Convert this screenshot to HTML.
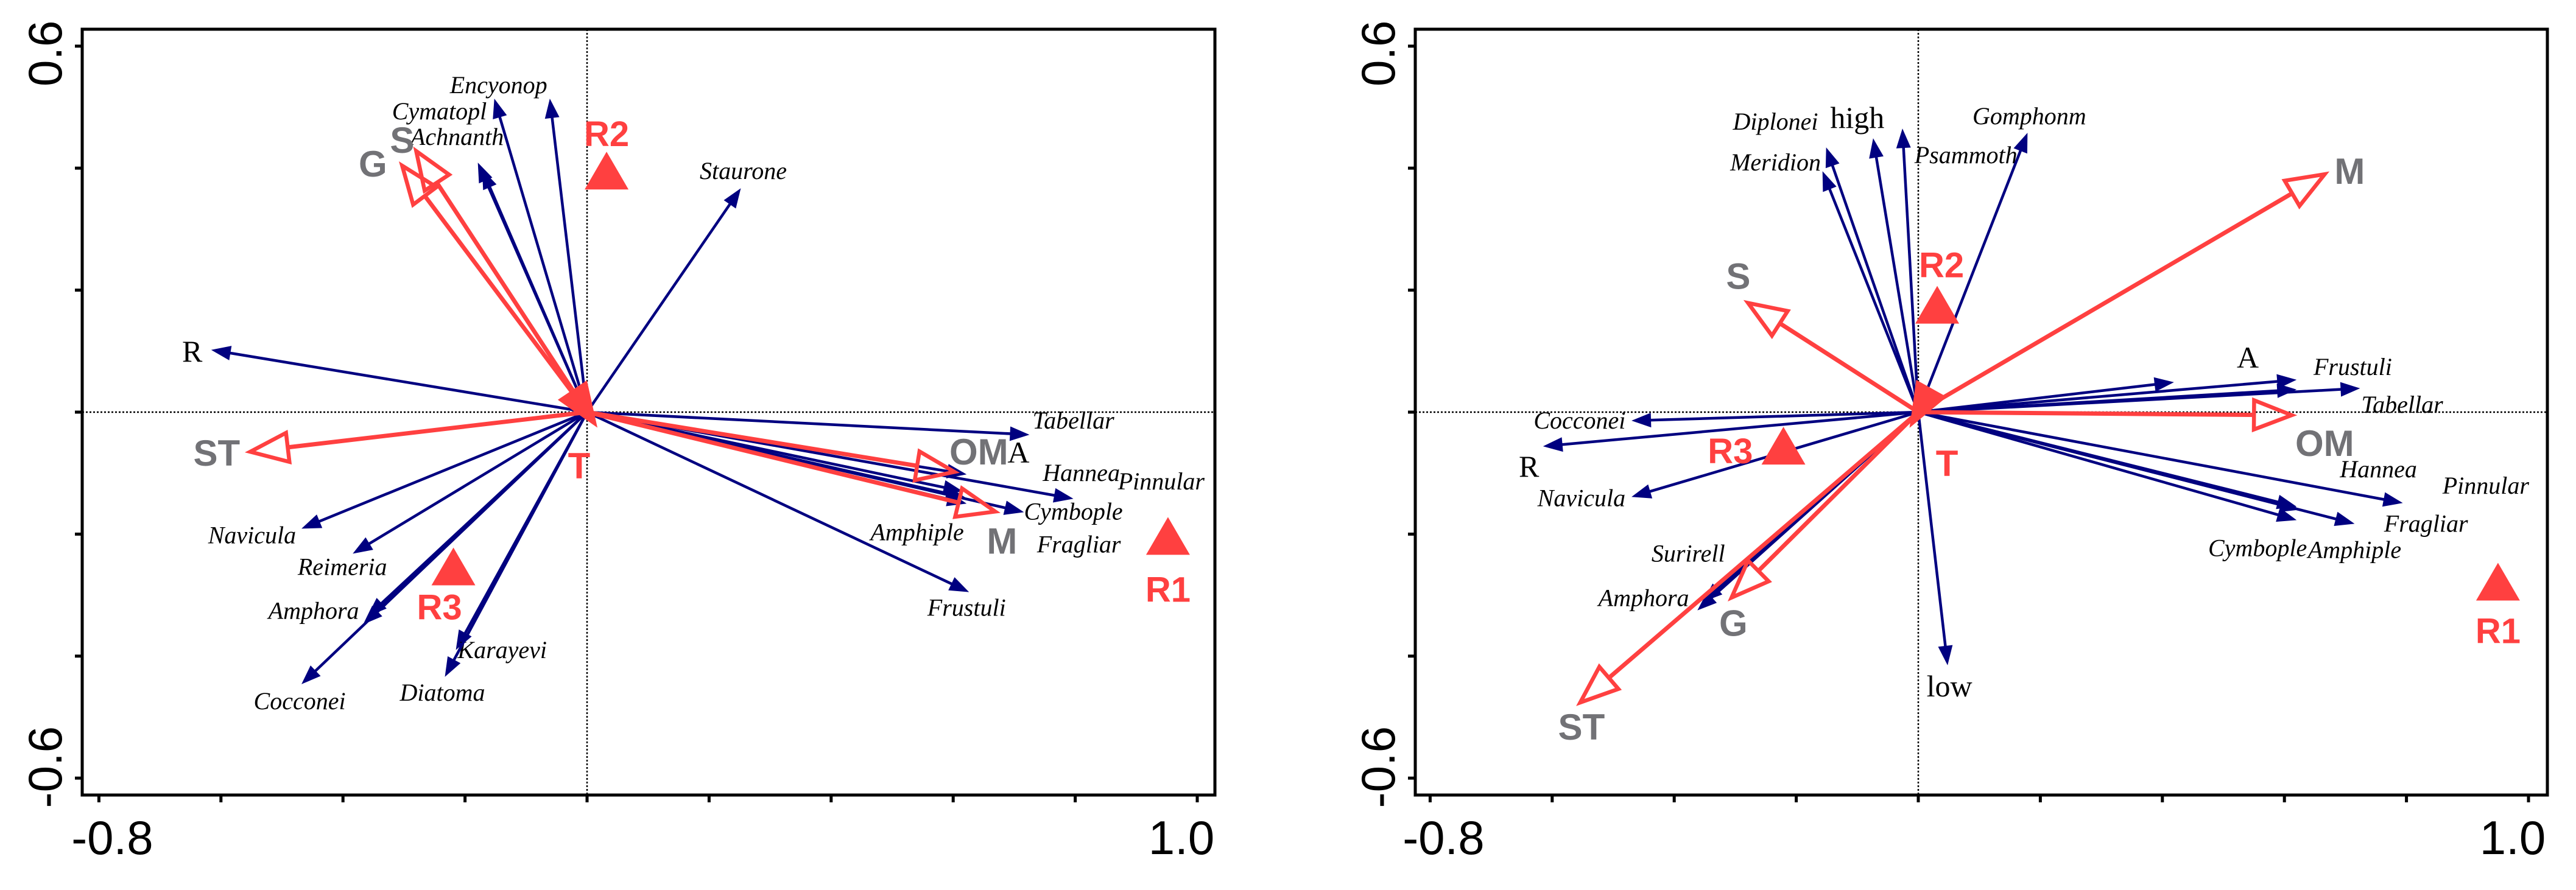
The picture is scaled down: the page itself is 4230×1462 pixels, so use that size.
<!DOCTYPE html>
<html><head><meta charset="utf-8"><style>
html,body{margin:0;padding:0;background:#fff;}
svg{display:block;}
.sp{font-family:"Liberation Serif",serif;font-style:italic;font-size:40px;fill:#000;}
.sn{font-family:"Liberation Serif",serif;font-size:50px;fill:#000;}
.env{font-family:"Liberation Sans",sans-serif;font-weight:bold;font-size:60px;fill:#727276;}
.pt{font-family:"Liberation Sans",sans-serif;font-weight:bold;font-size:58px;fill:#ff4040;}
.tk{font-family:"Liberation Sans",sans-serif;font-size:78px;fill:#000;}
</style></head><body>
<svg id="chart" width="4230" height="1462" viewBox="0 0 4230 1462" xmlns="http://www.w3.org/2000/svg"></svg>
<script>
// ---- Panel 1 data ----
const p1SpNames = ["Encyonop","Cymatopl","Achnanth","","Staurone","R","Tabellar","A","Hannea","Pinnular","Amphiple","Cymbople","Fragliar","Frustuli","Navicula","Reimeria","Amphora","","Cocconei","Karayevi","Diatoma"];
const p1SpX = [-0.061,-0.152,-0.179,-0.172,0.252,-0.616,0.725,0.622,0.797,0.616,0.622,0.716,0.620,0.626,-0.468,-0.384,-0.367,-0.360,-0.468,-0.215,-0.233];
const p1SpY = [0.514,0.514,0.409,0.398,0.367,0.102,-0.037,-0.102,-0.142,-0.130,-0.150,-0.164,-0.140,-0.295,-0.191,-0.232,-0.348,-0.335,-0.446,-0.390,-0.434];
const p1SpLX = [-0.145,-0.242,-0.213,0,0.256,-0.647,0.797,0.707,0.810,0.941,0.541,0.797,0.806,0.622,-0.549,-0.401,-0.448,0,-0.471,-0.139,-0.237];
const p1SpLY = [0.536,0.493,0.451,0,0.395,0.096,-0.014,-0.070,-0.100,-0.114,-0.197,-0.163,-0.217,-0.321,-0.202,-0.254,-0.326,0,-0.474,-0.390,-0.460];
const p1EnvNames = ["S","G","ST","OM","M","T"];
const p1EnvX = [-0.280,-0.303,-0.552,0.602,0.669,0.012];
const p1EnvY = [0.428,0.404,-0.065,-0.098,-0.163,-0.018];
const p1EnvLX = [-0.303,-0.351,-0.607,0.642,0.680,-0.013];
const p1EnvLY = [0.446,0.407,-0.067,-0.065,-0.211,-0.088];
const p1PtNames = ["R1","R2","R3"];
const p1PtX = [0.952,0.032,-0.219];
const p1PtY = [-0.204,0.395,-0.254];
const p1PtLX = [0.952,0.032,-0.242];
const p1PtLY = [-0.290,0.457,-0.319];
// ---- Panel 2 data ----
const p2SpNames = ["Diplonei","Meridion","high","Psammoth","Gomphonm","A","Frustuli","","Tabellar","Cocconei","R","Navicula","Hannea","Pinnular","Fragliar","Cymbople","Amphiple","Surirell","Amphora","low"];
const p2SpX = [-0.151,-0.157,-0.074,-0.026,0.179,0.419,0.620,0.620,0.724,-0.470,-0.615,-0.470,0.620,0.794,0.715,0.620,0.625,-0.353,-0.362,0.048];
const p2SpY = [0.434,0.395,0.449,0.465,0.458,0.049,0.053,0.037,0.039,-0.014,-0.056,-0.139,-0.155,-0.149,-0.183,-0.177,-0.160,-0.311,-0.325,-0.415];
const p2SpLX = [-0.234,-0.234,-0.100,0.078,0.182,0.540,0.712,0,0.793,-0.555,-0.638,-0.552,0.754,0.930,0.832,0.556,0.715,-0.377,-0.450,0.051];
const p2SpLY = [0.476,0.409,0.479,0.421,0.485,0.086,0.074,0,0.012,-0.014,-0.093,-0.141,-0.094,-0.121,-0.183,-0.223,-0.226,-0.232,-0.305,-0.453];
const p2EnvNames = ["M","S","OM","G","ST","T"];
const p2EnvX = [0.666,-0.279,0.612,-0.306,-0.554,-0.010];
const p2EnvY = [0.390,0.179,-0.005,-0.304,-0.476,-0.018];
const p2EnvLX = [0.707,-0.295,0.666,-0.303,-0.552,0.047];
const p2EnvLY = [0.395,0.223,-0.051,-0.346,-0.516,-0.084];
const p2PtNames = ["R1","R2","R3"];
const p2PtX = [0.950,0.031,-0.221];
const p2PtY = [-0.279,0.175,-0.056];
const p2PtLX = [0.950,0.038,-0.308];
const p2PtLY = [-0.358,0.242,-0.063];
const xTicks = [-0.8,-0.6,-0.4,-0.2,0,0.2,0.4,0.6,0.8,1.0];
const yTicks = [0.6,0.4,0.2,0,-0.2,-0.4,-0.6];
const tickLabelsX = ["-0.8","1.0"];
const tickLabelsY = ["0.6","-0.6"];

const NS="http://www.w3.org/2000/svg";
const svg=document.getElementById('chart');
function mk(tag,attrs,parent){const e=document.createElementNS(NS,tag);for(const k in attrs)e.setAttribute(k,attrs[k]);(parent||svg).appendChild(e);return e;}

function panel(id,left,right,x0,sp,env,pt){
  const top=48,bottom=1306,y0=677,S=1002;
  const sx=v=>x0+v*S, sy=v=>y0-v*S;
  const g=mk('g',{});
  
  
  // zero lines
  const zx=mk('line',{x1:left,x2:right,y1:sy(0),y2:sy(0),stroke:'#000','stroke-width':2.5,'stroke-dasharray':'3 3'},g);
  
  
  const zy=mk('line',{x1:sx(0),x2:sx(0),y1:top,y2:bottom,stroke:'#000','stroke-width':2.5,'stroke-dasharray':'3 3'},g);
  
  
  // species arrows
  for(let i=0;i<sp.n.length;i++){
    const tx=sx(sp.x[i]),ty=sy(sp.y[i]),ox=sx(0),oy=sy(0);
    const dx=tx-ox,dy=ty-oy,L=Math.hypot(dx,dy),ux=dx/L,uy=dy/L,hl=32,hw=12;
    const bx=tx-ux*hl,by=ty-uy*hl;
    const a=mk('g',{},g);
    
    
    mk('line',{x1:ox,y1:oy,x2:bx+ux*4,y2:by+uy*4,stroke:'#000080','stroke-width':4.5},a);
    mk('polygon',{points:`${tx},${ty} ${bx-uy*hw},${by+ux*hw} ${bx+uy*hw},${by-ux*hw}`,fill:'#000080'},a);
    if(sp.n[i]){
      const t=mk('text',{x:sx(sp.lx[i]),y:sy(sp.ly[i])+13,'text-anchor':'middle',class:(sp.n[i].length<=4?'sn':'sp')},g);
      t.textContent=sp.n[i];
      
      
    }
  }
  // env arrows
  for(let i=0;i<env.n.length;i++){
    const tx=sx(env.x[i]),ty=sy(env.y[i]),ox=sx(0),oy=sy(0);
    const dx=tx-ox,dy=ty-oy,L=Math.hypot(dx,dy)||1,ux=dx/L,uy=dy/L,hl=62,hw=24;
    const bx=tx-ux*hl,by=ty-uy*hl;
    const a=mk('g',{},g);
    
    
    mk('line',{x1:ox,y1:oy,x2:bx,y2:by,stroke:'#ff4040','stroke-width':7},a);
    mk('polygon',{points:`${tx},${ty} ${bx-uy*hw},${by+ux*hw} ${bx+uy*hw},${by-ux*hw}`,fill:env.n[i]==='T'?'#ff4040':'none',stroke:'#ff4040','stroke-width':6.5,'stroke-linejoin':'miter'},a);
    const t=mk('text',{x:sx(env.lx[i]),y:sy(env.ly[i])+21,'text-anchor':'middle',class:'env'},g);
    if(env.n[i]==='T')t.setAttribute('fill','#ff4040'),t.setAttribute('style','fill:#ff4040');
    t.textContent=env.n[i];
    
    
  }
  // sample points
  for(let i=0;i<pt.n.length;i++){
    const cx=sx(pt.x[i]),cy=sy(pt.y[i]);
    const p=mk('polygon',{points:`${cx},${cy-32} ${cx-36},${cy+30} ${cx+36},${cy+30}`,fill:'#ff4040'},g);
    
    
    const t=mk('text',{x:sx(pt.lx[i]),y:sy(pt.ly[i])+21,'text-anchor':'middle',class:'pt'},g);
    t.textContent=pt.n[i];
    
    
  }
  // frame
  const fr=mk('rect',{x:left,y:top,width:right-left,height:bottom-top,fill:'none',stroke:'#000','stroke-width':5},g);
  
  
  // ticks
  xTicks.forEach(v=>{const l=mk('line',{x1:sx(v),x2:sx(v),y1:bottom,y2:bottom+12,stroke:'#000','stroke-width':5},g);
    
    });
  yTicks.forEach(v=>{const l=mk('line',{x1:left-12,x2:left,y1:sy(v),y2:sy(v),stroke:'#000','stroke-width':5},g);
    
    });
  [xTicks[0],xTicks[xTicks.length-1]].forEach((v,k)=>{
    const t=mk('text',{x:sx(v)+(k?-26:22),y:1403,'text-anchor':'middle',class:'tk'},g);
    t.textContent=tickLabelsX[k];
    
    });
  [yTicks[0],yTicks[yTicks.length-1]].forEach((v,k)=>{
    const yy=sy(v)+(k?-18:12);
    const t=mk('text',{x:left-62,y:yy,'text-anchor':'middle',class:'tk',transform:`rotate(-90 ${left-62} ${yy})`,dy:28},g);
    t.textContent=tickLabelsY[k];
    
    });
}
panel('left-biplot',135,1995,964,
  {n:p1SpNames,x:p1SpX,y:p1SpY,lx:p1SpLX,ly:p1SpLY},
  {n:p1EnvNames,x:p1EnvX,y:p1EnvY,lx:p1EnvLX,ly:p1EnvLY},
  {n:p1PtNames,x:p1PtX,y:p1PtY,lx:p1PtLX,ly:p1PtLY});
panel('right-biplot',2324,4183,3150,
  {n:p2SpNames,x:p2SpX,y:p2SpY,lx:p2SpLX,ly:p2SpLY},
  {n:p2EnvNames,x:p2EnvX,y:p2EnvY,lx:p2EnvLX,ly:p2EnvLY},
  {n:p2PtNames,x:p2PtX,y:p2PtY,lx:p2PtLX,ly:p2PtLY});
</script>
</body></html>
